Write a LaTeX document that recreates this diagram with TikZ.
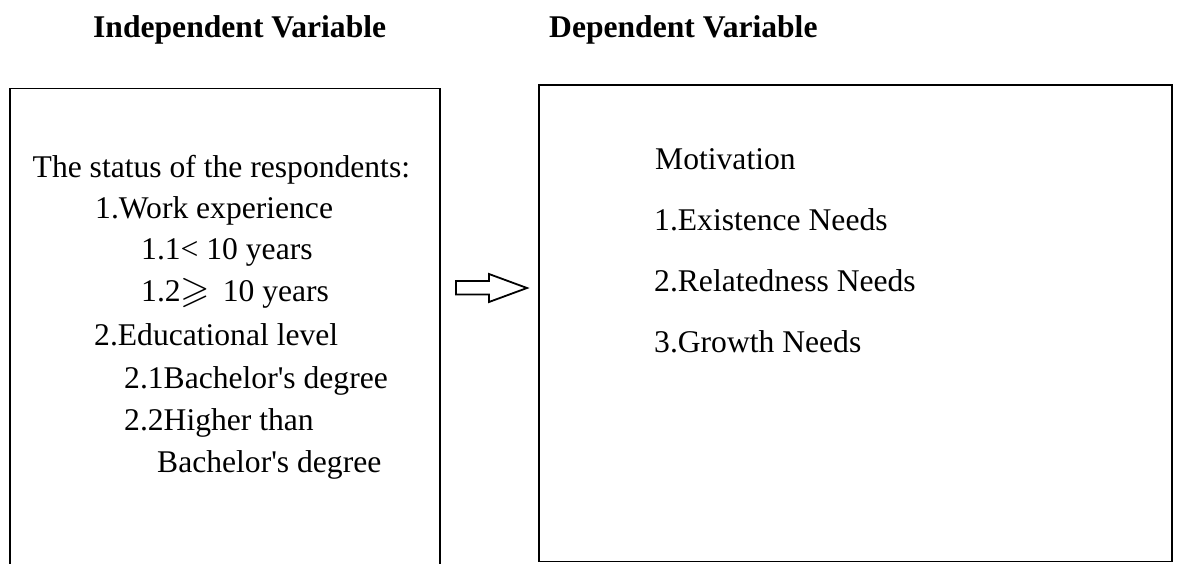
\documentclass[tikz,border=0pt]{standalone}
\usepackage{amssymb}
\usepackage{graphicx}
\usepackage{fontspec}
\setmainfont{Liberation Serif}
\begin{document}
\begin{tikzpicture}[x=1pt,y=-1pt,
  txt/.style={anchor=base west,inner sep=0pt,font=\fontsize{31.6}{38}\selectfont},
  hdr/.style={txt,font=\fontsize{31.6}{38}\selectfont\bfseries},
  boxline/.style={draw=black,line width=1.5pt},
  blockarrow/.style={draw=black,line width=1.8pt,fill=white,line join=miter}]
\clip (0,0) rectangle (1178,563);
\fill[white] (0,0) rectangle (1178,563);
% headers
\node[hdr] (hind) at (93,37) {Independent Variable};
\node[hdr] (hdep) at (549,37) {Dependent Variable};
% boxes
\draw[boxline] (10,88.5) rectangle (440,620);
\draw[boxline] (539,85) rectangle (1172,561.5);
\coordinate (lbox) at (440,288);
\coordinate (rbox) at (539,288);
% left box text
\node[txt] (l1) at (32.5,177) {The status of the respondents:};
\node[txt] (l2) at (95,218) {1.Work experience};
\node[txt] (l3) at (141,259) {1.1< 10 years};
\node[txt] (l4) at (141,301) {1.2\raisebox{-1pt}{\scalebox{1.2}{$\geqslant$}}\hspace{0.4em}10 years};
\node[txt] (l5) at (94,345) {2.Educational level};
\node[txt] (l6) at (124,388) {2.1Bachelor\textquotesingle s degree};
\node[txt] (l7) at (124,430) {2.2Higher than};
\node[txt] (l8) at (157,472) {Bachelor\textquotesingle s degree};
% right box text
\node[txt] (r1) at (655,169) {Motivation};
\node[txt] (r2) at (654,230) {1.Existence Needs};
\node[txt] (r3) at (654,291) {2.Relatedness Needs};
\node[txt] (r4) at (654,352) {3.Growth Needs};
% block arrow
\draw[blockarrow] (456,281) -- (489,281) -- (489,274) -- (527,288) -- (489,302)
  -- (489,294.5) -- (456,294.5) -- cycle;
\end{tikzpicture}
\end{document}
